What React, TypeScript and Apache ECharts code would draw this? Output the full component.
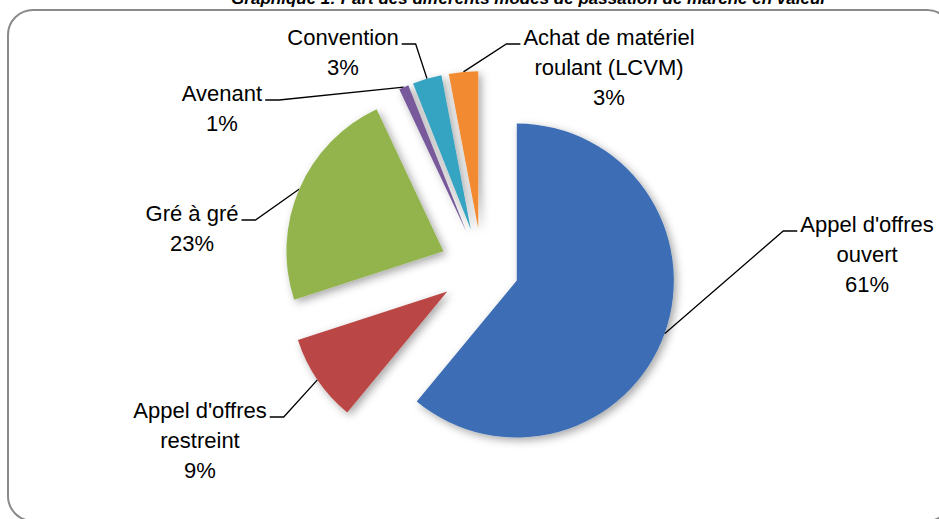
import React, { useEffect, useRef } from "react";
import * as echarts from "echarts";

const categories = [
  "Appel d'offres ouvert",
  "Appel d'offres restreint",
  "Gré à gré",
  "Avenant",
  "Convention",
  "Achat de matériel roulant (LCVM)",
];
const labelTexts = [
  "Appel d'offres\nouvert",
  "Appel d'offres\nrestreint",
  "Gré à gré",
  "Avenant",
  "Convention",
  "Achat de matériel\nroulant (LCVM)",
];
const shares = [61, 9, 23, 1, 3, 3];

const titleText = "Graphique 1: Part des différents modes de passation de marché en valeur";

// styling / layout (not data)
const colors = ["#3C6DB4", "#BA4744", "#93B44E", "#785A9C", "#36A4C2", "#F28A30"];
const explode = [37, 42, 42, 40, 40, 40];
const pieCenter = [482, 268];
const pieRadius = 157;
const labelPos = [
  [867, 254],
  [200, 440],
  [192, 228],
  [222, 108],
  [343, 52],
  [609, 67],
];
const FONT = "'Liberation Sans', Arial, sans-serif";

export default function App() {
  const ref = useRef<HTMLDivElement>(null);
  useEffect(() => {
    if (!ref.current) return;
    const chart = echarts.init(ref.current, null, { renderer: "svg" });
    const total = shares.reduce((a, b) => a + b, 0);
    let cum = 0;
    const series = shares.map((v, i) => {
      const mid = ((cum + v / 2) / total) * Math.PI * 2;
      cum += v;
      const cx = pieCenter[0] + explode[i] * Math.sin(mid);
      const cy = pieCenter[1] - explode[i] * Math.cos(mid);
      return {
        type: "pie",
        silent: true,
        radius: pieRadius,
        center: [cx, cy],
        startAngle: 90,
        clockwise: true,
        avoidLabelOverlap: false,
        percentPrecision: 0,
        emphasis: { disabled: true },
        z: 2,
        data: shares.map((val, j) => ({
          value: val,
          name: categories[j],
          itemStyle:
            j === i
              ? {
                  color: colors[j],
                  shadowBlur: 8,
                  shadowOffsetX: 3,
                  shadowOffsetY: 3,
                  shadowColor: "rgba(0,0,0,0.35)",
                }
              : { color: "rgba(0,0,0,0)" },
          label: { show: j === i },
          labelLine: { show: j === i },
        })),
        label: {
          position: "outside",
          formatter: (p: any) => labelTexts[p.dataIndex] + "\n" + p.percent + "%",
          fontFamily: FONT,
          fontSize: 22,
          lineHeight: 30,
          color: "#000",
        },
        labelLine: {
          length: 10,
          length2: 10,
          lineStyle: { color: "#000", width: 1.3 },
        },
        labelLayout: (params: any) => {
          if (params.dataIndex !== i) return {};
          const [lx, ly] = labelPos[i];
          const w = params.labelRect.width;
          const h = params.labelRect.height;
          const start = params.labelLinePoints ? params.labelLinePoints[0] : [lx, ly];
          const right = lx > start[0];
          const ax = right ? lx - w / 2 - 3 : lx + w / 2 + 3;
          const ay = ly - h / 2 + 22;
          const ex = right ? ax - 14 : ax + 14;
          return {
            x: lx,
            y: ly,
            align: "center",
            verticalAlign: "middle",
            labelLinePoints: [start, [ex, ay], [ax, ay]],
          };
        },
      };
    });

    chart.setOption({
      animation: false,
      backgroundColor: "#ffffff",
      graphic: [
        {
          type: "rect",
          shape: { x: 8, y: 10, width: 944, height: 511, r: 25 },
          style: { fill: "none", stroke: "#8a8a8a", lineWidth: 2 },
          z: 0,
        },
        {
          type: "text",
          x: 529,
          y: -2,
          style: {
            text: titleText,
            font: "italic bold 17px 'Liberation Sans', Arial, sans-serif",
            textAlign: "center",
            textVerticalAlign: "middle",
            fill: "#000",
          },
          z: 10,
        },
      ],
      series,
    });
    return () => chart.dispose();
  }, []);
  return (
    <div
      ref={ref}
      style={{ position: "fixed", left: 0, top: 0, width: 939, height: 519 }}
    />
  );
}
